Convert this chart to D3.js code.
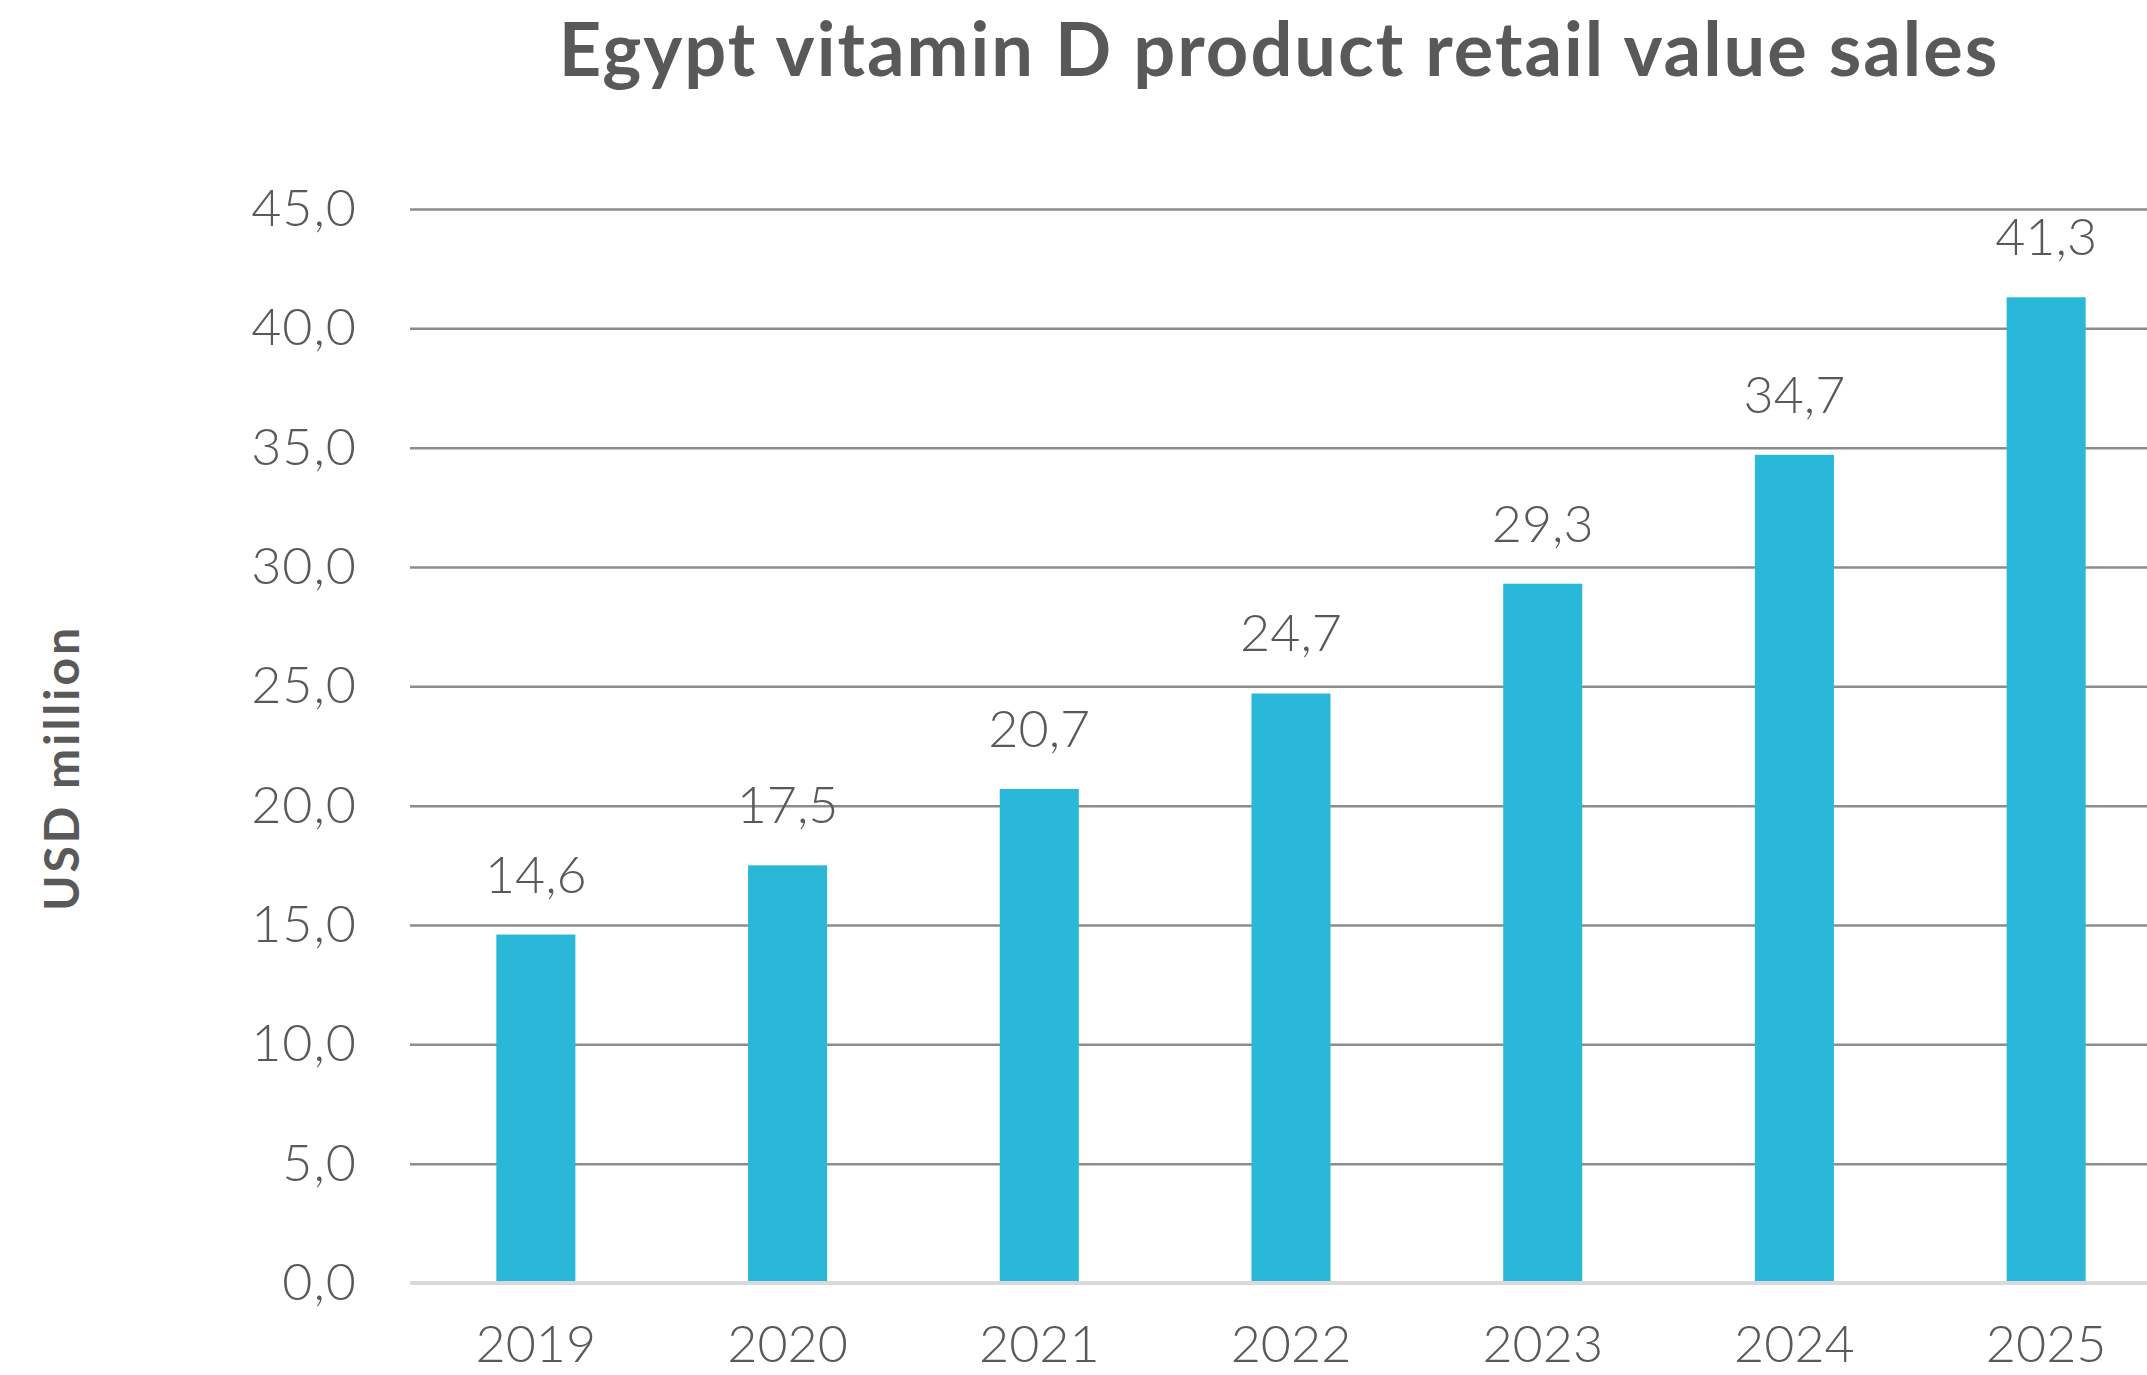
<!DOCTYPE html>
<meta charset="utf-8">
<head>
	<script src="https://d3js.org/d3.v7.min.js"></script>
	<style>
		body { margin: 0; background: #fff; }
		text { fill: #595959; }
		.axis text { font-family: Lato, sans-serif; font-weight: 300; font-size: 52px; }
		.y.axis text { letter-spacing: 1px; }
		.label { font-family: Lato, sans-serif; font-weight: 300; font-size: 52px; }
		.title { font-family: Lato, sans-serif; font-weight: 700; font-size: 74px; letter-spacing: 2px; }
		.ytitle { font-family: Lato, sans-serif; font-weight: 700; font-size: 48px; letter-spacing: 3px; }
	</style>
</head>
<body>
<div id="chart"></div>
<script>
	'use strict';
	// chart data
	var years = ["2019", "2020", "2021", "2022", "2023", "2024", "2025"];
	var sales = [14.6, 17.5, 20.7, 24.7, 29.3, 34.7, 41.3];
	var yTicks = [0, 5, 10, 15, 20, 25, 30, 35, 40, 45];

	var width = 2147, height = 1375;
	var margin = { top: 209, left: 410, bottom: 92 };
	var plotW = 1762; // runs past the right edge, like the original
	var plotH = height - margin.top - margin.bottom;

	var commaFmt = d3.formatLocale({ decimal: ",", thousands: ".", grouping: [3], currency: ["", ""] }).format(".1f");

	var svg = d3.select("#chart").append("svg")
		.attr("width", width)
		.attr("height", height);

	var g = svg.append("g")
		.attr("transform", "translate(" + margin.left + "," + margin.top + ")");

	var x = d3.scaleBand().domain(years).range([0, plotW]).paddingInner(0.686).paddingOuter(0.343);
	var y = d3.scaleLinear().domain([0, 45]).range([plotH, 0]);

	// y axis + gridlines
	var yAxis = g.append("g").attr("class", "axis y")
		.call(d3.axisLeft(y).tickValues(yTicks).tickFormat(commaFmt).tickSize(-plotW).tickPadding(53));
	yAxis.select(".domain").remove();
	yAxis.selectAll("line").attr("stroke", "#8c8c8c").attr("stroke-width", 2.5);
	yAxis.selectAll(".tick").filter(function (d) { return d === 0; }).select("line").remove();

	// bars
	g.selectAll(".bar").data(sales).enter().append("rect")
		.attr("class", "bar")
		.attr("x", function (d, i) { return x(years[i]); })
		.attr("width", x.bandwidth())
		.attr("y", function (d) { return y(d); })
		.attr("height", function (d) { return plotH - y(d); })
		.attr("fill", "#2AB8D9");

	// base line
	g.append("line")
		.attr("x1", 0).attr("x2", plotW)
		.attr("y1", y(0)).attr("y2", y(0))
		.attr("stroke", "#d9d9d9").attr("stroke-width", 4);

	// value labels
	g.selectAll(".label").data(sales).enter().append("text")
		.attr("class", "label")
		.attr("text-anchor", "middle")
		.attr("x", function (d, i) { return x(years[i]) + x.bandwidth() / 2; })
		.attr("y", function (d) { return y(d) - 42; })
		.text(function (d) { return commaFmt(d); });

	// x axis
	var xAxis = g.append("g").attr("class", "axis x")
		.attr("transform", "translate(0," + plotH + ")")
		.call(d3.axisBottom(x).tickSize(0).tickPadding(42));
	xAxis.select(".domain").remove();

	// titles
	svg.append("text").attr("class", "title")
		.attr("text-anchor", "middle")
		.attr("x", 1279).attr("y", 76)
		.text("Egypt vitamin D product retail value sales");

	svg.append("text").attr("class", "ytitle")
		.attr("text-anchor", "middle")
		.attr("transform", "translate(79,768) rotate(-90)")
		.text("USD million");
</script>
</body>
